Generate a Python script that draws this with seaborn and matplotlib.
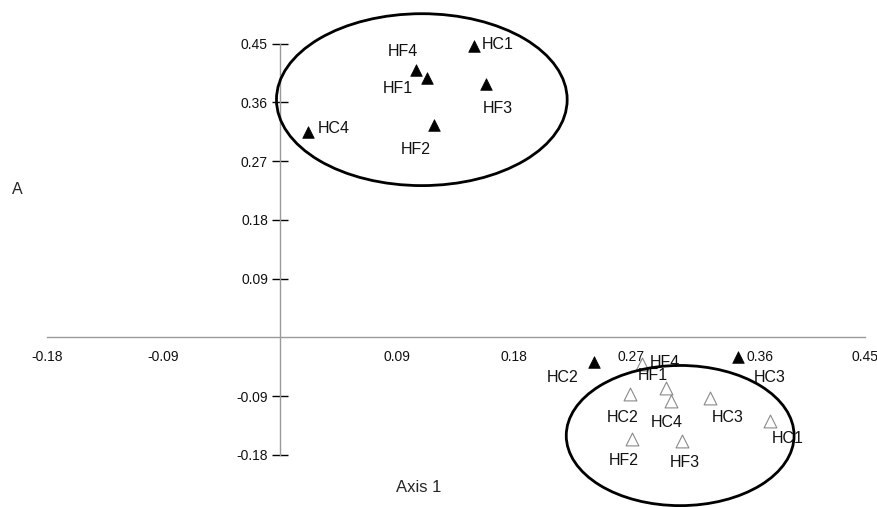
import matplotlib
matplotlib.use('Agg')
import matplotlib.pyplot as plt
import matplotlib.lines as mlines
import matplotlib.transforms as mtransforms
from matplotlib.patches import Ellipse
import pandas as pd
import seaborn as sns

# filled triangles
filled_labels = ["HC1", "HF4", "HF1", "HF3", "HC4", "HF2", "HC2", "HC3"]
filled_x = [0.149, 0.104, 0.113, 0.158, 0.021, 0.118, 0.241, 0.352]
filled_y = [0.446, 0.409, 0.397, 0.389, 0.314, 0.325, -0.038, -0.030]

# open triangles
open_labels = ["HF4", "HF1", "HC2", "HC4", "HC3", "HC1", "HF2", "HF3"]
open_x = [0.278, 0.297, 0.269, 0.301, 0.331, 0.377, 0.271, 0.309]
open_y = [-0.040, -0.077, -0.086, -0.097, -0.093, -0.128, -0.155, -0.159]

ticks = [-0.18, -0.09, 0.09, 0.18, 0.27, 0.36, 0.45]
tick_labels = ["-0.18", "-0.09", "0.09", "0.18", "0.27", "0.36", "0.45"]

# label offsets in pixels (dx, dy up)
filled_off = [(24, 2), (-13, 19), (-29, -10), (12, -25), (26, 4), (-18, -24), (-31, -15), (32, -20)]
open_off = [(23, 1), (-13, 12), (-7, -24), (-5, -22), (17, -19), (18, -17), (-9, -22), (3, -21)]

df_f = pd.DataFrame({"x": filled_x, "y": filled_y, "label": filled_labels})
df_o = pd.DataFrame({"x": open_x, "y": open_y, "label": open_labels})

sns.set_style("white")
plt.rcParams['font.family'] = ['Liberation Sans', 'DejaVu Sans']

fig = plt.figure(figsize=(8.78, 5.07), dpi=100)
ax = fig.add_axes([46.7/878, 52/507, (865-46.7)/878, (455-43.7)/507])

sns.scatterplot(data=df_f, x="x", y="y", marker="^", s=70, color="black",
                edgecolor="black", linewidth=0.5, ax=ax, zorder=3, clip_on=False)
sns.scatterplot(data=df_o, x="x", y="y", marker="^", s=85, facecolor="white",
                edgecolor="#8a8a8a", linewidth=0.8, ax=ax, zorder=3, clip_on=False)

for d, off in [(df_f, filled_off), (df_o, open_off)]:
    for (_, r), (dx, dy) in zip(d.iterrows(), off):
        ax.annotate(r["label"], (r["x"], r["y"]), xytext=(dx, dy),
                    textcoords="offset pixels", ha="center", va="center",
                    fontsize=11.5, color="#111111", zorder=4)

ax.add_patch(Ellipse((0.1088, 0.3643), 0.2238, 0.2633, fill=False,
                     edgecolor="black", linewidth=2, clip_on=False, zorder=5))
ax.add_patch(Ellipse((0.3077, -0.1502), 0.1754, 0.2147, fill=False,
                     edgecolor="black", linewidth=2, clip_on=False, zorder=5))

ax.set_xlim(-0.18, 0.45)
ax.set_ylim(-0.18, 0.45)
for s in ["top", "right"]:
    ax.spines[s].set_visible(False)
ax.spines["left"].set_position(("data", 0))
ax.spines["bottom"].set_position(("data", 0))
for s in ["left", "bottom"]:
    ax.spines[s].set_color("#9a9a9a")
    ax.spines[s].set_linewidth(1)

ax.set_xticks(ticks)
ax.set_xticklabels(tick_labels)
ax.set_yticks(ticks)
ax.set_yticklabels(tick_labels)
ax.tick_params(axis="both", direction="inout", length=12, width=1,
               color="black", labelsize=10, labelcolor="#111111")
ax.tick_params(axis="x", pad=3)
ax.tick_params(axis="y", pad=3, left=True)

# the outer x ticks are grey and only point up
for t, v in zip(ax.xaxis.get_major_ticks(), ticks):
    if v in (-0.18, -0.09, 0.45):
        t.tick1line.set_marker(mlines.TICKUP)
        t.tick1line.set_markersize(6)
        t.tick1line.set_color("#9a9a9a")

# 0.36 label sits a little to the right, clear of the marker
lbl = ax.get_xticklabels()[ticks.index(0.36)]
lbl.set_transform(lbl.get_transform() +
                  mtransforms.ScaledTranslation(12/100, 0, fig.dpi_scale_trans))

ax.set_xlabel("")
ax.set_ylabel("")
fig.text(17/878, 1 - 190/507, "A", fontsize=11.5, ha="center", va="center")
fig.text(419/878, 1 - 487/507, "Axis 1", fontsize=12, ha="center", va="center")

fig.savefig("out.png", dpi=100)
